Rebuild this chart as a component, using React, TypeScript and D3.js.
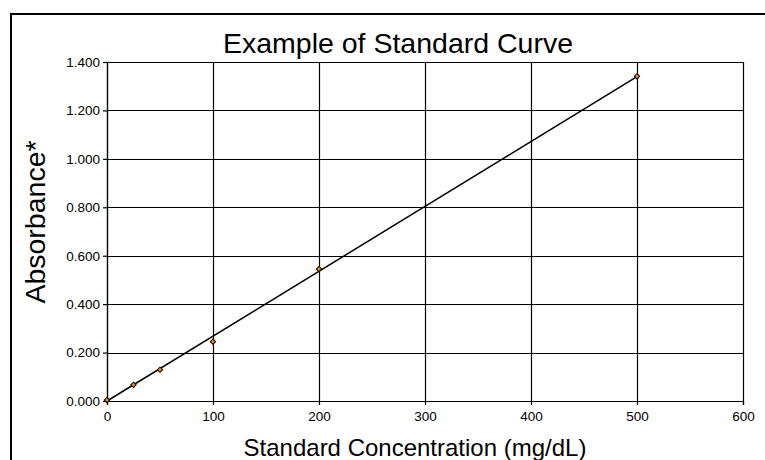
import React, { useEffect, useRef } from 'react';
import * as d3 from 'd3';

// standards (mg/dL) and measured absorbance
const concentrations = [0, 25, 50, 100, 200, 500];
const absorbance = [0.004, 0.067, 0.129, 0.245, 0.545, 1.341];
const xTicks = [0, 100, 200, 300, 400, 500, 600];
const yTicks = [0, 0.2, 0.4, 0.6, 0.8, 1.0, 1.2, 1.4];

const App = () => {
  const ref = useRef<SVGSVGElement>(null);

  useEffect(() => {
    const svg = d3.select(ref.current);
    svg.selectAll('*').remove();

    const width = 765;
    const height = 460;
    const margin = { top: 62, right: 22, bottom: 59, left: 107 };
    const font = 'Arial, "Liberation Sans", sans-serif';

    const x = d3.scaleLinear().domain([0, 600]).range([margin.left, width - margin.right]);
    const y = d3.scaleLinear().domain([0, 1.4]).range([height - margin.bottom, margin.top]);

    // outer frame of the chart object (runs off the page right and bottom)
    svg.append('rect')
      .attr('x', 11).attr('y', 14)
      .attr('width', 800).attr('height', 500)
      .attr('fill', 'white')
      .attr('stroke', 'black')
      .attr('stroke-width', 2);

    // grid
    svg.append('g')
      .selectAll('line')
      .data(xTicks)
      .enter().append('line')
        .attr('x1', d => Math.round(x(d)) + 0.5).attr('x2', d => Math.round(x(d)) + 0.5)
        .attr('y1', y(0)).attr('y2', y(1.4))
        .attr('stroke', 'black').attr('stroke-width', 1.2);

    svg.append('g')
      .selectAll('line')
      .data(yTicks)
      .enter().append('line')
        .attr('x1', x(0)).attr('x2', x(600))
        .attr('y1', d => Math.round(y(d)) + 0.5).attr('y2', d => Math.round(y(d)) + 0.5)
        .attr('stroke', 'black').attr('stroke-width', 1.2);

    // axes
    const xAxis = d3.axisBottom(x).tickValues(xTicks).tickSize(4).tickPadding(6).tickFormat(d3.format('d'));
    const yAxis = d3.axisLeft(y).tickValues(yTicks).tickSize(4).tickPadding(3).tickFormat(d3.format('.3f'));

    const gx = svg.append('g')
      .attr('transform', `translate(0, ${y(0)})`)
      .call(xAxis);
    const gy = svg.append('g')
      .attr('transform', `translate(${x(0)}, 0)`)
      .call(yAxis);

    [gx, gy].forEach(g => {
      g.select('.domain').attr('stroke', 'black').attr('stroke-width', 1.2);
      g.selectAll('.tick line').attr('stroke', 'black').attr('stroke-width', 1.2);
      g.selectAll('.tick text')
        .attr('fill', 'black')
        .style('font-family', font)
        .style('font-size', '13.5px');
    });

    // trend line: least squares through the origin
    const slope = d3.sum(concentrations, (c, i) => c * absorbance[i]) / d3.sum(concentrations, c => c * c);
    const xMax = d3.max(concentrations) as number;
    svg.append('line')
      .attr('x1', x(0)).attr('y1', y(0))
      .attr('x2', x(xMax)).attr('y2', y(slope * xMax))
      .attr('stroke', 'black')
      .attr('stroke-width', 1.5);

    // markers: small square diamonds
    const diamond = d3.symbol().type(d3.symbolSquare).size(14);
    svg.append('g')
      .selectAll('path')
      .data(concentrations)
      .enter().append('path')
        .attr('d', diamond)
        .attr('transform', (d, i) => `translate(${x(d)}, ${y(absorbance[i])}) rotate(45)`)
        .attr('fill', '#ff8c00')
        .attr('stroke', 'black')
        .attr('stroke-width', 1);

    // titles
    svg.append('text')
      .attr('x', 398).attr('y', 53)
      .attr('text-anchor', 'middle')
      .style('font-family', font)
      .style('font-size', '28.5px')
      .text('Example of Standard Curve');

    svg.append('text')
      .attr('x', 415).attr('y', 456)
      .attr('text-anchor', 'middle')
      .style('font-family', font)
      .style('font-size', '24px')
      .text('Standard Concentration (mg/dL)');

    svg.append('text')
      .attr('transform', 'translate(45, 222) rotate(-90)')
      .attr('text-anchor', 'middle')
      .style('font-family', font)
      .style('font-size', '28.5px')
      .text('Absorbance*');
  }, []);

  return (
    <svg
      ref={ref}
      width="765"
      height="460"
      style={{ position: 'absolute', left: 0, top: 0, background: 'white' }}
    ></svg>
  );
};

export default App;
